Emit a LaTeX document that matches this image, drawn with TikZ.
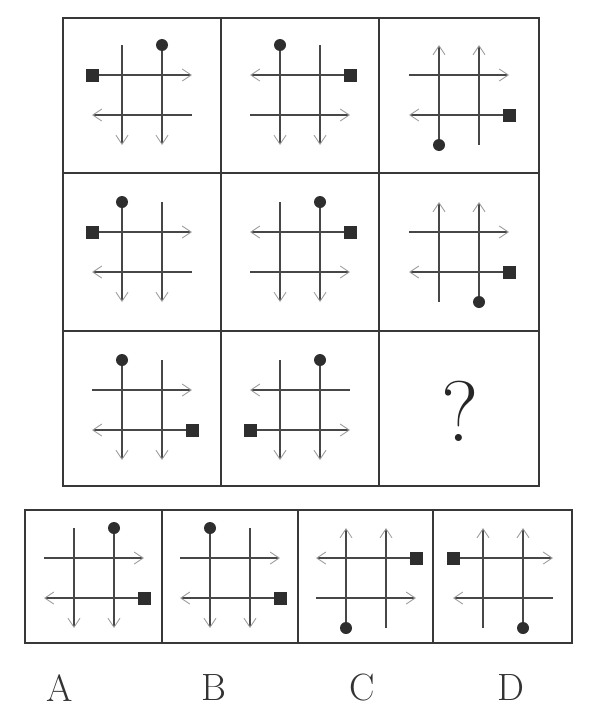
\documentclass[tikz,border=0pt]{standalone}
\usetikzlibrary{arrows.meta}
\tikzset{
  ln/.style={draw=black!72, line width=1.7pt},
  atend/.style={-{Straight Barb[length=9pt,width=12pt,line width=0.9pt,color=black!38]}},
  atstart/.style={{Straight Barb[length=9pt,width=12pt,line width=0.9pt,color=black!38]}-},
  plain/.style={},
  frame/.style={draw=black!78, line width=2.2pt},
  mk/.style={fill=black!82},
  lbl/.style={font=\fontsize{38}{40}\selectfont, text=black!80, inner sep=0pt}
}
\newcommand\pat[7]{%
  \begin{scope}[shift={(#1,#2)}]
    \draw[ln,#3] (-20,-50) -- (-20,50);
    \draw[ln,#4] (20,-50) -- (20,50);
    \draw[ln,#5] (-50,-20) -- (50,-20);
    \draw[ln,#6] (-50,20) -- (50,20);
    #7
  \end{scope}}
\newcommand\mdot[2]{\fill[mk] (#1,#2) circle[radius=6pt];}
\newcommand\msq[2]{\fill[mk] (#1,#2) ++(-6.5,-6.5) rectangle ++(13,13);}
\begin{document}
\begin{tikzpicture}[x=1pt,y=-1pt]
  \fill[white] (0,0) rectangle (589,715);
  \useasboundingbox (0,0) rectangle (589,715);
  % main grid
  \draw[frame] (63,18) rectangle (539,486);
  \draw[frame] (221,18) -- (221,486);
  \draw[frame] (379,18) -- (379,486);
  \draw[frame] (63,173) -- (539,173);
  \draw[frame] (63,331) -- (539,331);
  % row 1
  \pat{142}{95}{atend}{atend}{atend}{atstart}{\mdot{20}{-50}\msq{-50}{-20}}
  \pat{300}{95}{atend}{atend}{atstart}{atend}{\mdot{-20}{-50}\msq{50}{-20}}
  \pat{459}{95}{atstart}{atstart}{atend}{atstart}{\mdot{-20}{50}\msq{50}{20}}
  % row 2
  \pat{142}{252}{atend}{atend}{atend}{atstart}{\mdot{-20}{-50}\msq{-50}{-20}}
  \pat{300}{252}{atend}{atend}{atstart}{atend}{\mdot{20}{-50}\msq{50}{-20}}
  \pat{459}{252}{atstart}{atstart}{atend}{atstart}{\mdot{20}{50}\msq{50}{20}}
  % row 3
  \pat{142}{410}{atend}{atend}{atend}{atstart}{\mdot{-20}{-50}\msq{50}{20}}
  \pat{300}{410}{atend}{atend}{atstart}{atend}{\mdot{20}{-50}\msq{-50}{20}}
  \node[inner sep=0pt, text=black!85] (q) at (460,411) {\fontsize{86}{90}\selectfont ?};
  % options
  \draw[frame] (25,510) rectangle (572,643);
  \draw[frame] (162,510) -- (162,643);
  \draw[frame] (298,510) -- (298,643);
  \draw[frame] (433,510) -- (433,643);
  \pat{94}{578}{atend}{atend}{atend}{atstart}{\mdot{20}{-50}\msq{50}{20}}
  \pat{230}{578}{atend}{atend}{atend}{atstart}{\mdot{-20}{-50}\msq{50}{20}}
  \pat{366}{578}{atstart}{atstart}{atstart}{atend}{\mdot{-20}{50}\msq{50}{-20}}
  \pat{503}{578}{atstart}{atstart}{atend}{atstart}{\mdot{20}{50}\msq{-50}{-20}}
  % labels
  \node[lbl] (la) at (60,688) {A};
  \node[lbl] (lb) at (214,688) {B};
  \node[lbl] (lc) at (362,688) {C};
  \node[lbl] (ld) at (511,688) {D};
\end{tikzpicture}
\end{document}
